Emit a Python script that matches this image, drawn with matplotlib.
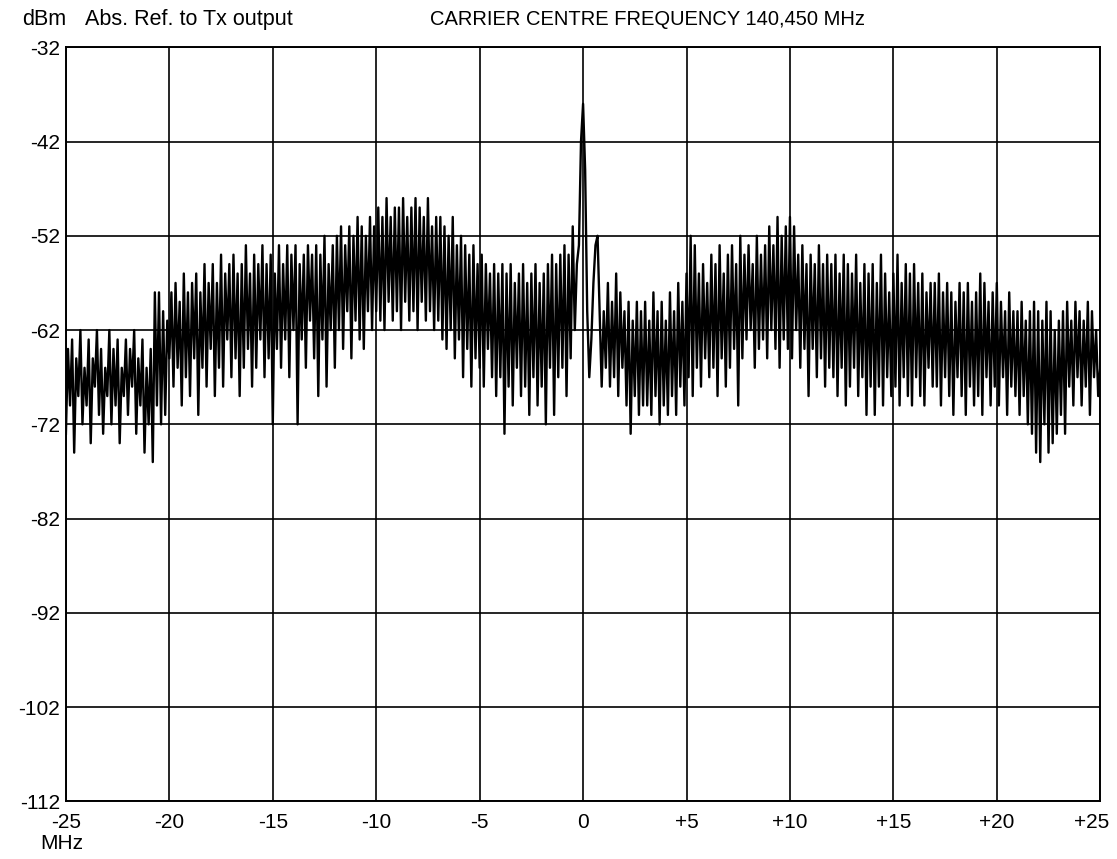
import numpy as np
import matplotlib
matplotlib.use('Agg')
import matplotlib.pyplot as plt
import matplotlib.transforms as mtransforms

plt.rcParams['font.family'] = ['Liberation Sans', 'DejaVu Sans']
plt.rcParams['axes.unicode_minus'] = False

# spectrum level (dBm), one row per MHz, 0.1 MHz apart, from -25 MHz
rows = [
    [-73, -64, -70, -63, -75, -65, -69, -62, -72, -66],  # -25
    [-70, -63, -74, -65, -68, -62, -71, -64, -73, -66],  # -24
    [-69, -62, -72, -64, -70, -63, -74, -66, -69, -63],  # -23
    [-71, -64, -68, -62, -73, -65, -70, -63, -75, -66],  # -22
    [-72, -64, -76, -58, -70, -58, -72, -60, -71, -61],  # -21
    [-65, -58, -68, -57, -66, -59, -70, -56, -67, -58],  # -20
    [-69, -57, -65, -56, -71, -58, -66, -55, -68, -57],  # -19
    [-64, -55, -69, -57, -66, -54, -68, -56, -63, -55],  # -18
    [-67, -54, -65, -56, -69, -55, -66, -53, -64, -56],  # -17
    [-68, -54, -66, -55, -63, -53, -67, -55, -65, -54],  # -16
    [-72, -56, -64, -53, -66, -55, -63, -53, -67, -54],  # -15
    [-62, -53, -72, -55, -63, -54, -66, -53, -61, -54],  # -14
    [-65, -53, -69, -54, -63, -52, -68, -55, -62, -53],  # -13
    [-66, -52, -62, -51, -64, -53, -60, -51, -65, -52],  # -12
    [-61, -50, -63, -51, -64, -52, -60, -50, -62, -51],  # -11
    [-60, -49, -61, -50, -62, -48, -59, -50, -61, -49],  # -10
    [-60, -49, -62, -48, -59, -50, -61, -49, -60, -48],  # -9
    [-62, -49, -59, -50, -61, -48, -60, -51, -62, -50],  # -8
    [-61, -50, -63, -51, -64, -52, -62, -50, -65, -53],  # -7
    [-63, -52, -67, -53, -64, -54, -68, -53, -65, -55],  # -6
    [-66, -54, -68, -55, -64, -56, -67, -55, -69, -56],  # -5
    [-67, -55, -73, -56, -68, -55, -70, -57, -66, -56],  # -4
    [-69, -55, -68, -57, -71, -56, -67, -55, -70, -57],  # -3
    [-68, -56, -72, -55, -66, -54, -71, -55, -67, -54],  # -2
    [-66, -53, -69, -54, -65, -51, -62, -55, -53, -42],  # -1
    [-38, -45, -60, -67, -63, -57, -53, -52, -60, -68],  # 0
    [-60, -66, -57, -68, -59, -67, -56, -69, -58, -66],  # 1
    [-60, -70, -59, -73, -61, -69, -59, -71, -60, -70],  # 2
    [-59, -70, -61, -71, -58, -69, -60, -72, -59, -70],  # 3
    [-61, -71, -58, -69, -60, -71, -57, -68, -59, -70],  # 4
    [-56, -67, -52, -69, -53, -66, -56, -68, -55, -65],  # 5
    [-57, -67, -54, -66, -55, -69, -53, -65, -56, -68],  # 6
    [-54, -66, -53, -64, -55, -70, -52, -65, -54, -63],  # 7
    [-53, -62, -55, -66, -52, -64, -54, -63, -53, -65],  # 8
    [-51, -62, -53, -64, -50, -66, -52, -63, -51, -64],  # 9
    [-50, -65, -51, -62, -54, -66, -53, -64, -55, -69],  # 10
    [-54, -64, -55, -67, -53, -65, -55, -68, -54, -66],  # 11
    [-55, -67, -54, -69, -56, -66, -54, -70, -55, -68],  # 12
    [-56, -66, -54, -69, -57, -67, -55, -71, -56, -68],  # 13
    [-55, -71, -57, -68, -54, -70, -56, -67, -58, -69],  # 14
    [-56, -68, -54, -70, -57, -67, -55, -69, -56, -70],  # 15
    [-55, -67, -57, -69, -56, -70, -58, -66, -57, -68],  # 16
    [-57, -68, -56, -70, -58, -67, -57, -69, -58, -71],  # 17
    [-59, -67, -57, -69, -58, -71, -57, -68, -59, -70],  # 18
    [-58, -69, -56, -71, -57, -67, -59, -70, -58, -68],  # 19
    [-57, -70, -59, -67, -60, -71, -58, -68, -60, -69],  # 20
    [-60, -71, -59, -69, -61, -72, -60, -73, -59, -75],  # 21
    [-60, -76, -61, -72, -59, -75, -60, -74, -62, -73],  # 22
    [-61, -71, -60, -73, -59, -68, -61, -70, -59, -67],  # 23
    [-60, -70, -61, -68, -59, -71, -60, -67, -62, -69],  # 24
]
last_level = [-66]  # at +25 MHz

x_ticks = [-25, -20, -15, -10, -5, 0, 5, 10, 15, 20, 25]
x_labels = ['-25', '-20', '-15', '-10', '-5', '0', '+5', '+10', '+15', '+20', '+25']
y_ticks = [-112, -102, -92, -82, -72, -62, -52, -42, -32]

level = np.concatenate([np.array(r, dtype=float) for r in rows] + [last_level])
freq = np.linspace(-25, 25, len(level))

fig = plt.figure(figsize=(11.17, 8.59), dpi=100)
ax = fig.add_axes([0.059, 0.067, 0.926, 0.878])

ax.plot(freq, level, color='black', linewidth=1.7)

ax.set_xlim(-25, 25)
ax.set_ylim(-112, -32)
ax.set_xticks(x_ticks)
ax.set_xticklabels(x_labels)
ax.set_yticks(y_ticks)
ax.grid(color='black', linestyle='-', linewidth=1.2)
for s in ax.spines.values():
    s.set_linewidth(1.4)
ax.tick_params(axis='both', length=0, labelsize=15, colors='black')
ax.tick_params(axis='x', pad=8)
ax.tick_params(axis='y', pad=4)

# pull the last x label in a little so it is not cut at the edge
last = ax.get_xticklabels()[-1]
last.set_transform(last.get_transform() + mtransforms.ScaledTranslation(-6 / 72, 0, fig.dpi_scale_trans))

fig.text(0.020, 0.977, 'dBm', fontsize=15.5, va='center')
fig.text(0.076, 0.977, 'Abs. Ref. to Tx output', fontsize=15.5, va='center')
fig.text(0.385, 0.977, 'CARRIER CENTRE FREQUENCY 140,450 MHz', fontsize=14.5, va='center')
fig.text(0.036, 0.018, 'MHz', fontsize=15, va='center')

fig.savefig('out.png', dpi=100)
